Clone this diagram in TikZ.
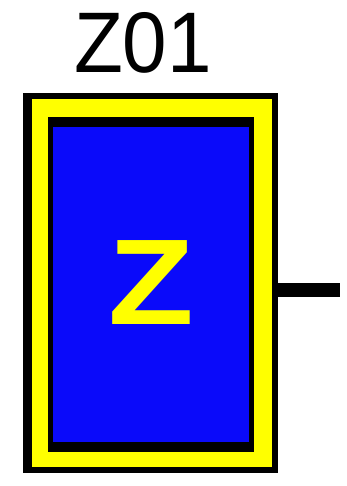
\documentclass[tikz,border=0pt]{standalone}
\usepackage{fontspec}
\setmainfont{Liberation Sans}
\definecolor{zblue}{RGB}{10,10,250}
\definecolor{zyellow}{RGB}{255,255,0}
\tikzset{
  lbl/.style={font=\fontsize{86}{86}\selectfont, text=black, inner sep=0pt},
  zlbl/.style={font=\fontsize{122}{122}\selectfont\bfseries, text=zyellow, inner sep=0pt}
}
\begin{document}
\begin{tikzpicture}[x=1pt,y=-1pt]
\useasboundingbox[fill=white] (0,0) rectangle (347,486);
% outer frame
\fill[black] (23,93) rectangle (278,473);
\fill[zyellow] (32,99) rectangle (272,467);
% inner box
\fill[black] (48,117) rectangle (254,452);
\fill[zblue] (53,127) rectangle (249,442);
% pin
\coordinate (pinA) at (277,290);
\coordinate (pinB) at (340,290);
\draw[line width=14pt] (pinA) -- (pinB);
% texts
\node[lbl, anchor=base] (title) at (143,73) {\scalebox{0.93}[1]{Z01}};
\node[zlbl, anchor=base] (z) at (151,324) {\scalebox{1.15}[1]{Z}};
\end{tikzpicture}
\end{document}
